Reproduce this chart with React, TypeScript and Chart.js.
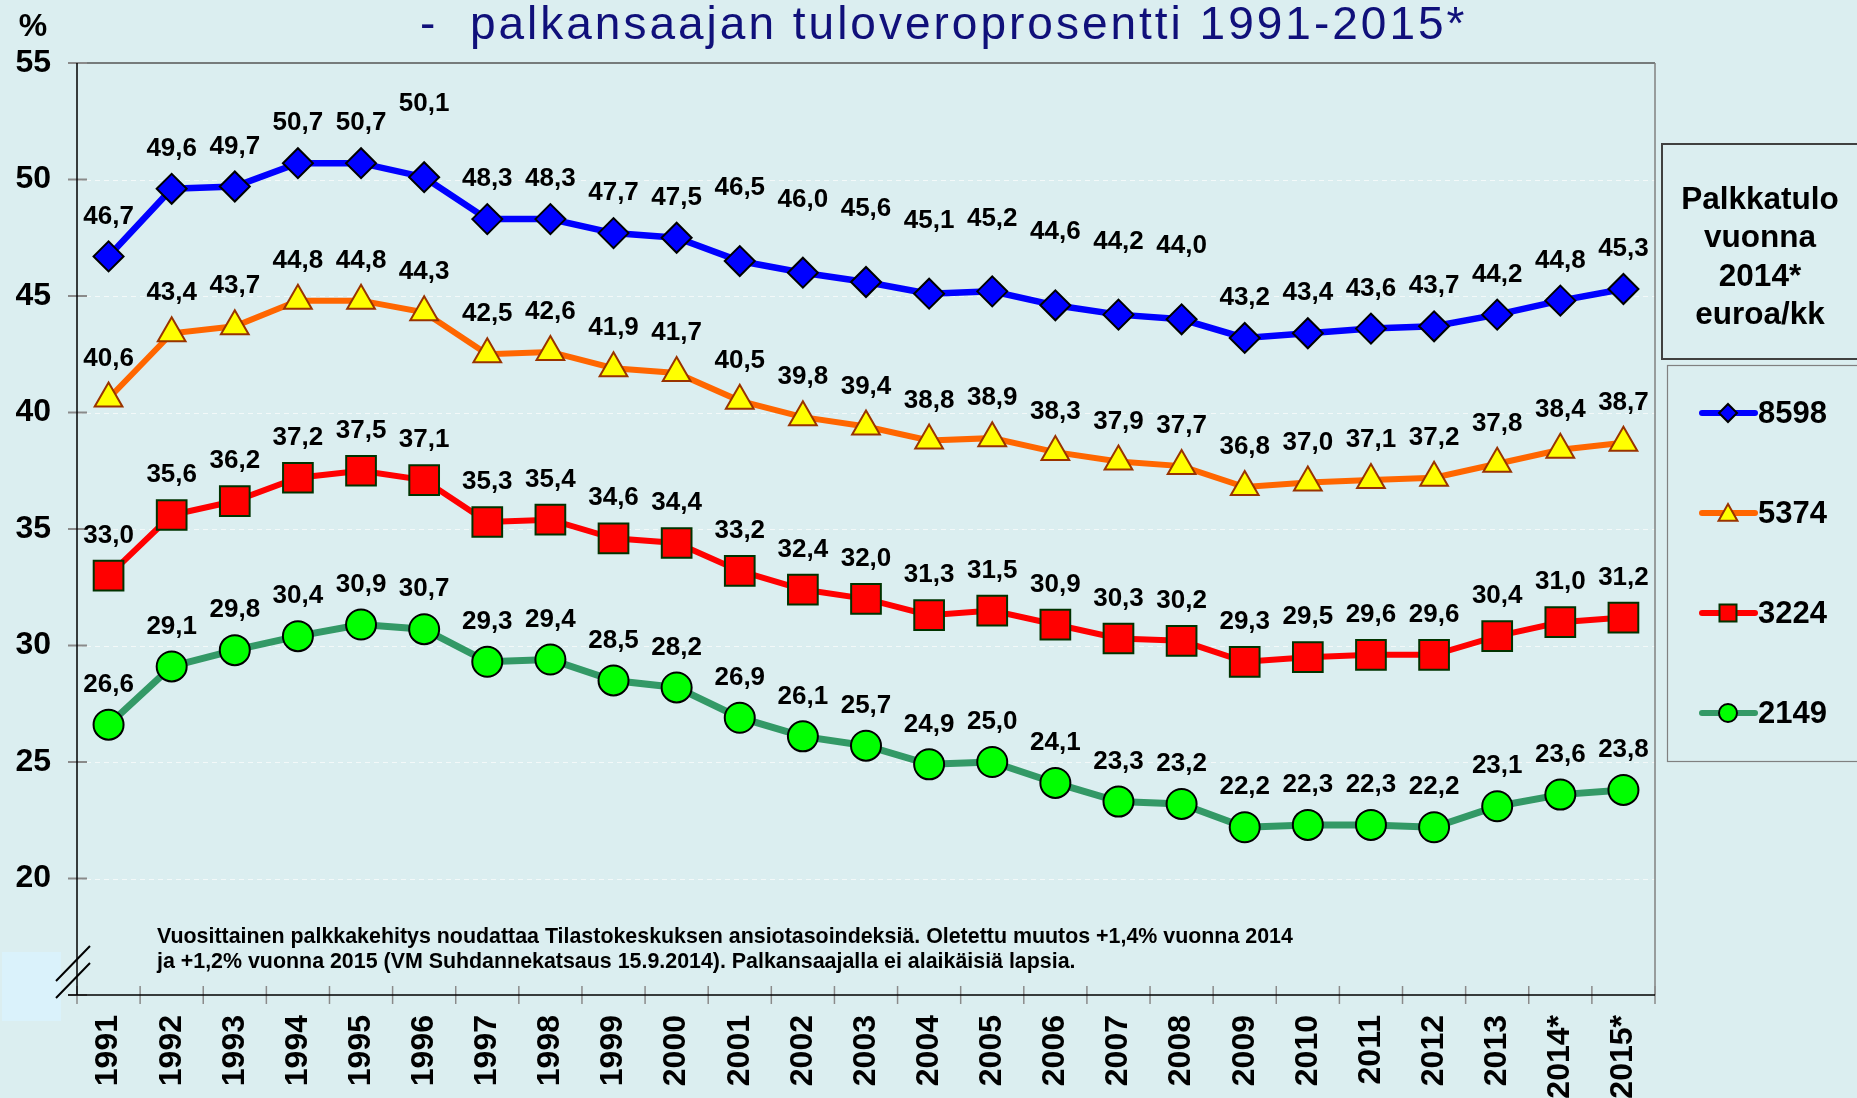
import { useEffect, useRef } from "react";
import { Chart, registerables } from "chart.js";

Chart.register(...registerables);

// ---------------- data ----------------
const years = [
  "1991", "1992", "1993", "1994", "1995", "1996", "1997", "1998", "1999", "2000",
  "2001", "2002", "2003", "2004", "2005", "2006", "2007", "2008", "2009", "2010",
  "2011", "2012", "2013", "2014*", "2015*",
];
const tax8598 = [46.7, 49.6, 49.7, 50.7, 50.7, 50.1, 48.3, 48.3, 47.7, 47.5, 46.5, 46.0, 45.6, 45.1, 45.2, 44.6, 44.2, 44.0, 43.2, 43.4, 43.6, 43.7, 44.2, 44.8, 45.3];
const tax5374 = [40.6, 43.4, 43.7, 44.8, 44.8, 44.3, 42.5, 42.6, 41.9, 41.7, 40.5, 39.8, 39.4, 38.8, 38.9, 38.3, 37.9, 37.7, 36.8, 37.0, 37.1, 37.2, 37.8, 38.4, 38.7];
const tax3224 = [33.0, 35.6, 36.2, 37.2, 37.5, 37.1, 35.3, 35.4, 34.6, 34.4, 33.2, 32.4, 32.0, 31.3, 31.5, 30.9, 30.3, 30.2, 29.3, 29.5, 29.6, 29.6, 30.4, 31.0, 31.2];
const tax2149 = [26.6, 29.1, 29.8, 30.4, 30.9, 30.7, 29.3, 29.4, 28.5, 28.2, 26.9, 26.1, 25.7, 24.9, 25.0, 24.1, 23.3, 23.2, 22.2, 22.3, 22.3, 22.2, 23.1, 23.6, 23.8];
const seriesNames = ["8598", "5374", "3224", "2149"];
const legendTitleLines = ["Palkkatulo", "vuonna", "2014*", "euroa/kk"];
const yMin = 15;
const yMax = 55;
const yStep = 5;
const titleText = "-  palkansaajan tuloveroprosentti 1991-2015*";
const yUnit = "%";
const footnoteLines = [
  "Vuosittainen palkkakehitys noudattaa Tilastokeskuksen ansiotasoindeksiä. Oletettu muutos +1,4% vuonna 2014",
  "ja +1,2% vuonna 2015 (VM Suhdannekatsaus 15.9.2014). Palkansaajalla ei alaikäisiä lapsia.",
];

// ---------------- styles ----------------
const FONT = "'Liberation Sans', Arial, Helvetica, sans-serif";
const BG = "#dbeef0";
const W = 1857;
const H = 1098;
// the blue series has some labels placed higher above their points
const raisedBlue = new Set([5, 10, 11, 12, 13, 14, 15, 16, 17]);

type Marker = "diamond" | "triangle" | "square" | "circle";
const seriesStyle: { line: string; fill: string; stroke: string; marker: Marker; lineWidth: number }[] = [
  { line: "#0000ff", fill: "#0000ff", stroke: "#000000", marker: "diamond", lineWidth: 6.5 },
  { line: "#ff6600", fill: "#ffff00", stroke: "#993300", marker: "triangle", lineWidth: 6 },
  { line: "#ff0000", fill: "#ff0000", stroke: "#003300", marker: "square", lineWidth: 6 },
  { line: "#339966", fill: "#00ff00", stroke: "#000000", marker: "circle", lineWidth: 7 },
];
const chartPointStyle: Record<Marker, { style: string; r: number }> = {
  diamond: { style: "rectRot", r: 15 },
  triangle: { style: "triangle", r: 16 },
  square: { style: "rect", r: 21 },
  circle: { style: "circle", r: 15 },
};

function drawMarker(ctx: CanvasRenderingContext2D, m: Marker, x: number, y: number, s: number, fill: string, stroke: string) {
  ctx.save();
  ctx.beginPath();
  if (m === "diamond") {
    ctx.moveTo(x, y - s);
    ctx.lineTo(x + s, y);
    ctx.lineTo(x, y + s);
    ctx.lineTo(x - s, y);
    ctx.closePath();
  } else if (m === "triangle") {
    ctx.moveTo(x, y - s);
    ctx.lineTo(x + s * 1.05, y + s * 0.85);
    ctx.lineTo(x - s * 1.05, y + s * 0.85);
    ctx.closePath();
  } else if (m === "square") {
    ctx.rect(x - s * 0.85, y - s * 0.85, s * 1.7, s * 1.7);
  } else {
    ctx.arc(x, y, s, 0, Math.PI * 2);
  }
  ctx.fillStyle = fill;
  ctx.fill();
  ctx.lineWidth = 2;
  ctx.strokeStyle = stroke;
  ctx.stroke();
  ctx.restore();
}

const decor = {
  id: "decor",
  beforeDraw(chart: any) {
    const ctx: CanvasRenderingContext2D = chart.ctx;
    ctx.save();
    ctx.fillStyle = BG;
    ctx.fillRect(0, 0, chart.width, chart.height);
    // light box at the bottom-left corner
    ctx.fillStyle = "#daf2fb";
    ctx.fillRect(2, 952, 59, 69);
    ctx.restore();
  },
  beforeDatasetsDraw(chart: any) {
    const ctx: CanvasRenderingContext2D = chart.ctx;
    const { left, right, top, bottom } = chart.chartArea;
    const yS = chart.scales.y;
    const xS = chart.scales.x;
    ctx.save();
    // dashed grid lines
    ctx.strokeStyle = "#f3f9f9";
    ctx.lineWidth = 1.2;
    ctx.setLineDash([5, 4]);
    for (let v = yMin + yStep; v < yMax; v += yStep) {
      const y = Math.round(yS.getPixelForValue(v)) + 0.5;
      ctx.beginPath();
      ctx.moveTo(left, y);
      ctx.lineTo(right, y);
      ctx.stroke();
    }
    ctx.setLineDash([]);
    // top & right border
    ctx.strokeStyle = "#555555";
    ctx.lineWidth = 1.5;
    ctx.beginPath();
    ctx.moveTo(left, top);
    ctx.lineTo(right, top);
    ctx.stroke();
    ctx.strokeStyle = "#808080";
    ctx.beginPath();
    ctx.moveTo(right, top);
    ctx.lineTo(right, bottom);
    ctx.stroke();
    // y tick marks
    ctx.strokeStyle = "#8a8a8a";
    ctx.lineWidth = 2;
    for (let v = yMin; v <= yMax; v += yStep) {
      const y = yS.getPixelForValue(v);
      ctx.beginPath();
      ctx.moveTo(left - 9, y);
      ctx.lineTo(left + 10, y);
      ctx.stroke();
    }
    // x tick marks at category boundaries
    const n = years.length;
    const step = (xS.getPixelForValue(n - 1) - xS.getPixelForValue(0)) / (n - 1);
    ctx.lineWidth = 1.5;
    for (let k = 0; k <= n; k++) {
      const x = xS.getPixelForValue(0) - step / 2 + k * step;
      ctx.beginPath();
      ctx.moveTo(x, bottom - 9);
      ctx.lineTo(x, bottom + 9);
      ctx.stroke();
    }
    // axes
    ctx.strokeStyle = "#000000";
    ctx.lineWidth = 1.5;
    ctx.beginPath();
    ctx.moveTo(left, top);
    ctx.lineTo(left, bottom);
    ctx.moveTo(left - 9, bottom);
    ctx.lineTo(right, bottom);
    ctx.stroke();
    // axis break marks
    ctx.lineWidth = 2;
    ctx.beginPath();
    ctx.moveTo(56, 981);
    ctx.lineTo(90, 946);
    ctx.moveTo(56, 998);
    ctx.lineTo(90, 963);
    ctx.stroke();
    ctx.restore();
  },
  afterDatasetsDraw(chart: any) {
    const ctx: CanvasRenderingContext2D = chart.ctx;
    ctx.save();
    // data labels
    ctx.fillStyle = "#000000";
    ctx.font = `bold 26px ${FONT}`;
    ctx.textAlign = "center";
    ctx.textBaseline = "middle";
    chart.data.datasets.forEach((ds: any, di: number) => {
      const meta = chart.getDatasetMeta(di);
      meta.data.forEach((pt: any, i: number) => {
        const v = ds.data[i] as number;
        const lift = di === 0 && raisedBlue.has(i) ? 73 : 40;
        ctx.fillText(v.toFixed(1).replace(".", ","), pt.x, pt.y - lift);
      });
    });
    // title
    ctx.fillStyle = "#10107a";
    ctx.font = `46px ${FONT}`;
    (ctx as any).letterSpacing = "3px";
    ctx.textAlign = "left";
    ctx.textBaseline = "alphabetic";
    ctx.fillText(titleText, 420, 39);
    (ctx as any).letterSpacing = "0px";
    // % unit
    ctx.fillStyle = "#000000";
    ctx.font = `bold 32px ${FONT}`;
    ctx.textAlign = "center";
    ctx.textBaseline = "middle";
    ctx.fillText(yUnit, 33, 27);
    // footnote
    ctx.font = `bold 21.4px ${FONT}`;
    ctx.textAlign = "left";
    footnoteLines.forEach((t, i) => ctx.fillText(t, 157, 937 + i * 25));
    // legend title box
    ctx.fillStyle = BG;
    ctx.fillRect(1662, 144, W - 1662, 215);
    ctx.strokeStyle = "#404040";
    ctx.lineWidth = 2;
    ctx.strokeRect(1662, 144, W - 1662 + 10, 215);
    ctx.fillStyle = "#000000";
    ctx.font = `bold 31.5px ${FONT}`;
    ctx.textAlign = "center";
    legendTitleLines.forEach((t, i) => ctx.fillText(t, 1760, 200 + i * 38.5));
    // legend items box
    ctx.strokeStyle = "#808080";
    ctx.lineWidth = 1.2;
    ctx.strokeRect(1667.5, 365.5, W - 1667 + 10, 396);
    seriesNames.forEach((name, i) => {
      const st = seriesStyle[i];
      const y = 413 + i * 100;
      ctx.save();
      ctx.strokeStyle = st.line;
      ctx.lineWidth = 6;
      ctx.lineCap = "round";
      ctx.beginPath();
      ctx.moveTo(1702, y);
      ctx.lineTo(1755, y);
      ctx.stroke();
      ctx.restore();
      drawMarker(ctx, st.marker, 1728, y, st.marker === "square" ? 10 : 9, st.fill, st.stroke);
      ctx.fillStyle = "#000000";
      ctx.font = `bold 31px ${FONT}`;
      ctx.textAlign = "left";
      ctx.textBaseline = "middle";
      ctx.fillText(name, 1758, y + 1);
    });
    ctx.restore();
  },
};

export default function App() {
  const ref = useRef<HTMLCanvasElement | null>(null);
  useEffect(() => {
    document.body.style.margin = "0";
    const canvas = ref.current;
    if (!canvas) return;
    const seriesData = [tax8598, tax5374, tax3224, tax2149];
    const chart = new Chart(canvas, {
      type: "line",
      data: {
        labels: years,
        datasets: seriesData.map((d, i) => {
          const st = seriesStyle[i];
          const ps = chartPointStyle[st.marker];
          return {
            label: seriesNames[i],
            data: d,
            borderColor: st.line,
            borderWidth: st.lineWidth,
            backgroundColor: st.fill,
            pointStyle: ps.style as any,
            pointRadius: ps.r,
            pointHoverRadius: ps.r,
            pointBackgroundColor: st.fill,
            pointBorderColor: st.stroke,
            pointBorderWidth: 2,
            tension: 0,
            fill: false,
          };
        }),
      },
      options: {
        responsive: false,
        animation: false,
        devicePixelRatio: 1,
        events: [],
        layout: { padding: { left: 0, top: 63, right: 202, bottom: 0 } },
        plugins: {
          legend: { display: false },
          title: { display: false },
          tooltip: { enabled: false },
        },
        scales: {
          x: {
            type: "category",
            offset: true,
            grid: { display: false, drawTicks: false },
            border: { display: false },
            ticks: {
              autoSkip: false,
              minRotation: 90,
              maxRotation: 90,
              padding: 20,
              color: "#000000",
              font: { family: FONT, size: 32, weight: "bold" },
            },
            afterFit: (s: any) => {
              s.height = 103;
            },
          },
          y: {
            min: yMin,
            max: yMax,
            grid: { display: false, drawTicks: false },
            border: { display: false },
            ticks: {
              stepSize: yStep,
              padding: 26,
              color: "#000000",
              font: { family: FONT, size: 32, weight: "bold" },
              callback: (v: any) => (Number(v) === yMin ? "" : String(v)),
            },
            afterFit: (s: any) => {
              s.width = 77;
            },
          },
        },
      },
      plugins: [decor],
    });
    return () => chart.destroy();
  }, []);
  return (
    <div style={{ position: "absolute", left: 0, top: 0, width: W, height: H, overflow: "hidden", background: BG }}>
      <canvas ref={ref} width={W} height={H} style={{ display: "block" }} />
    </div>
  );
}
